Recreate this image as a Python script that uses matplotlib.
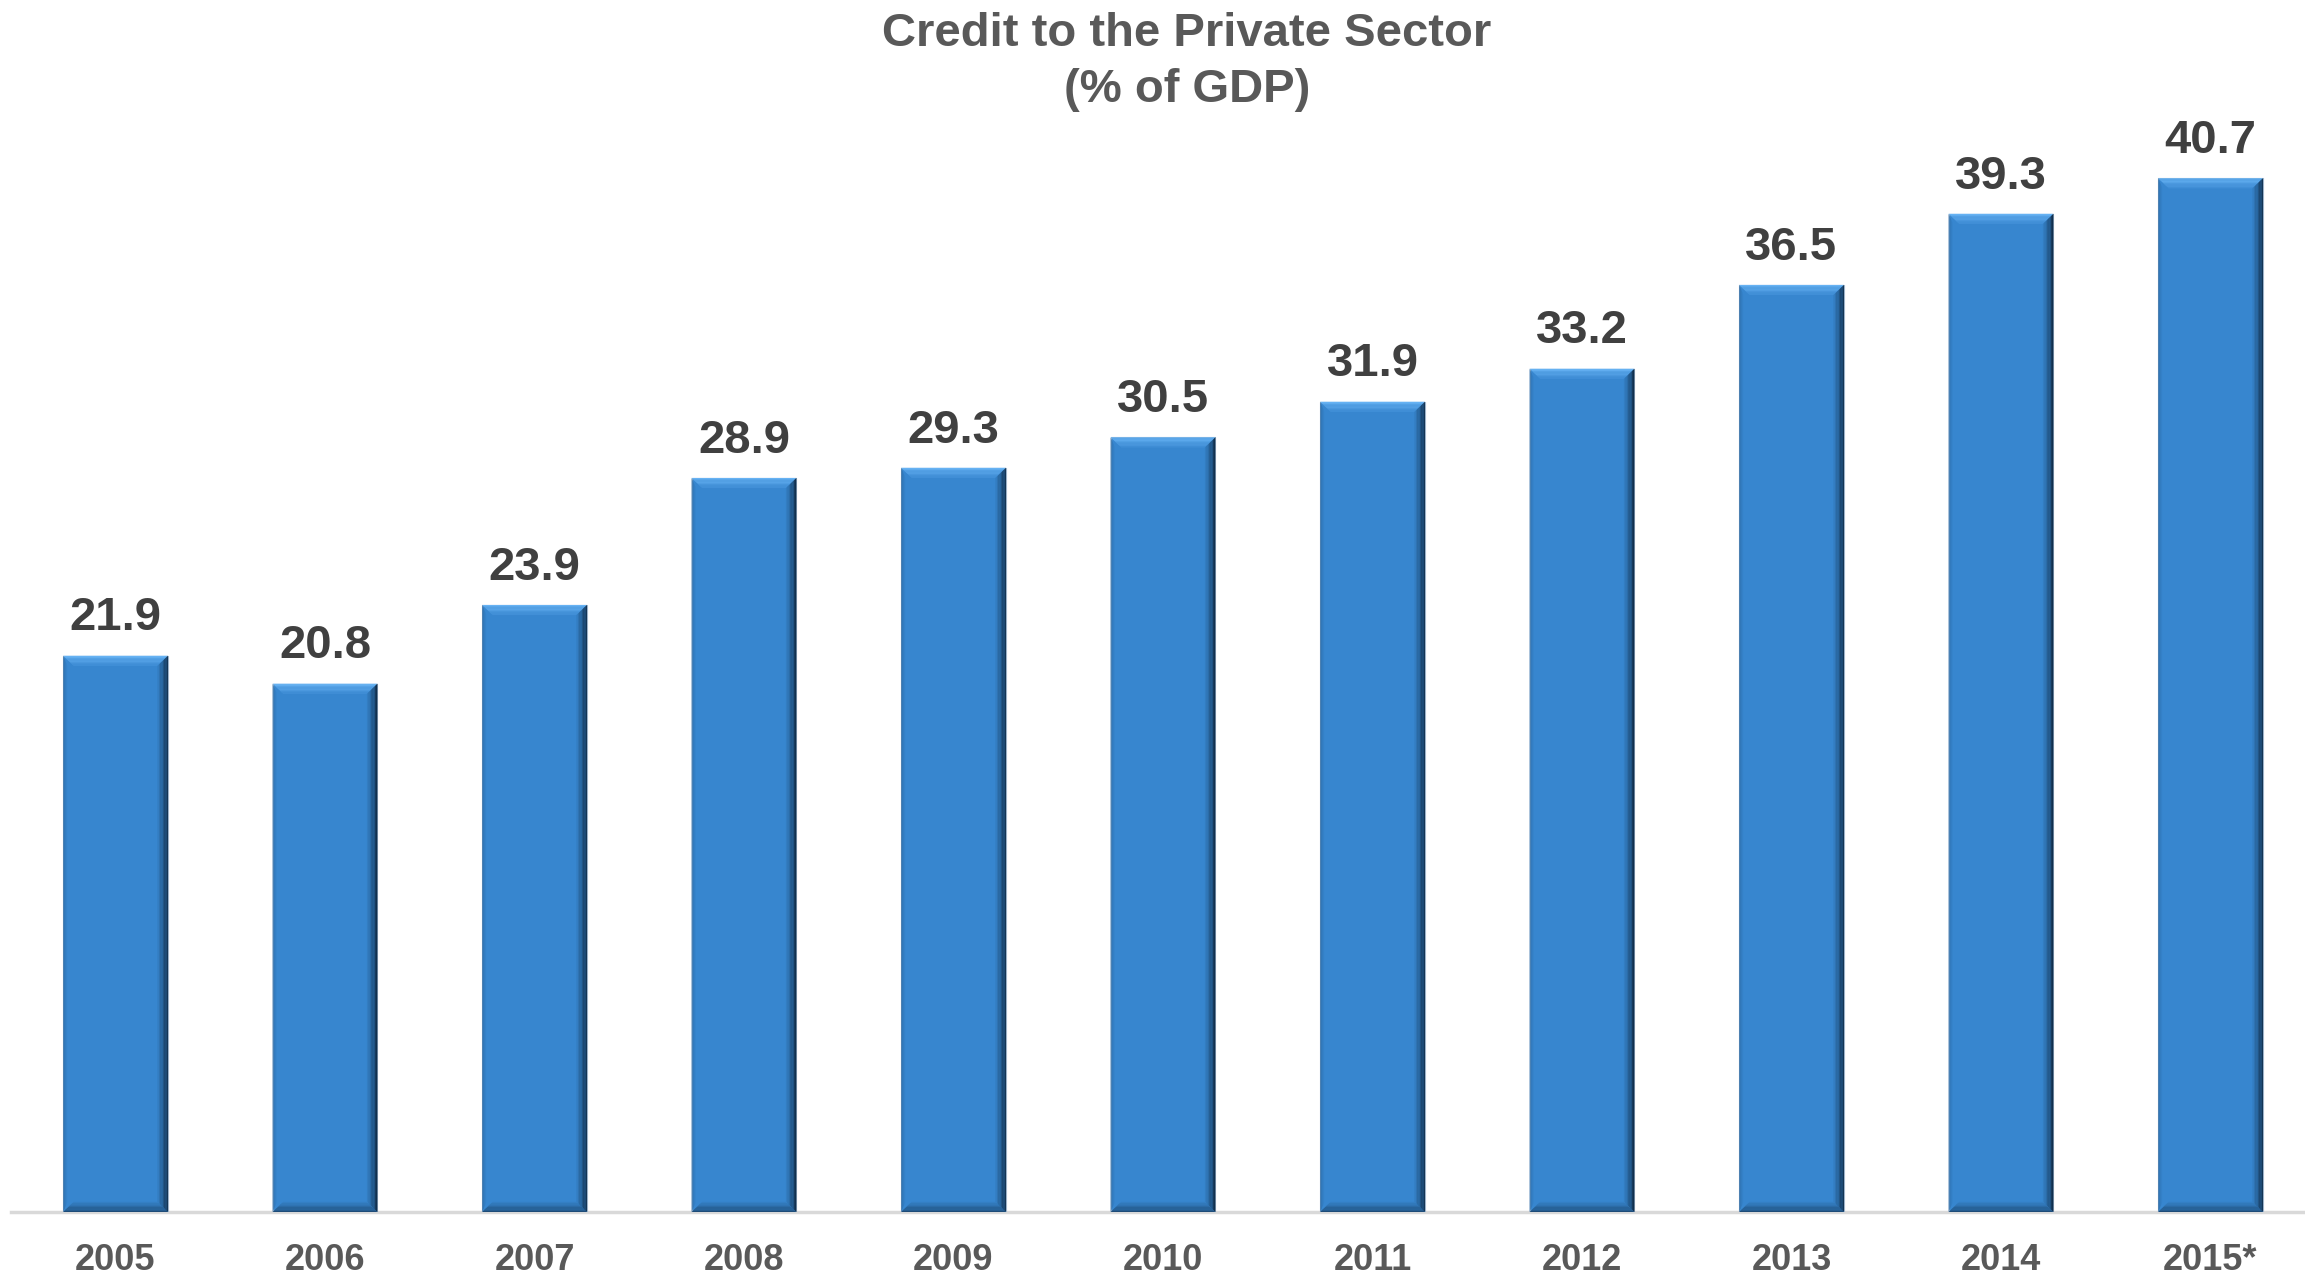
import matplotlib
matplotlib.use("Agg")
import matplotlib.pyplot as plt
from matplotlib.patches import Polygon
from matplotlib.colors import to_rgb
import numpy as np

plt.rcParams['font.family'] = ['Liberation Sans', 'DejaVu Sans']

years = ['2005', '2006', '2007', '2008', '2009', '2010', '2011', '2012', '2013', '2014', '2015*']
credit = [21.9, 20.8, 23.9, 28.9, 29.3, 30.5, 31.9, 33.2, 36.5, 39.3, 40.7]

face = '#3786CF'
light = '#66B2F3'
dark = '#0F2A44'

def mix(c1, c2, t):
    a, b = np.array(to_rgb(c1)), np.array(to_rgb(c2))
    return tuple(a + (b - a) * t)

fig = plt.figure(figsize=(23.05, 12.78), dpi=100)
ax = fig.add_axes([10.75 / 2305, 66 / 1278, 2304.5 / 2305, 1143 / 1278])

x = np.arange(len(years))
width = 0.5
bars = ax.bar(x, credit, width=width, color=face, edgecolor='#9DB3C9', linewidth=0.8, zorder=2)

# bevel: light top, dark right/bottom, stepped to fake a gradient
bx, by = 0.05, 0.4
steps = 8
for b in bars:
    x0, x1 = b.get_x(), b.get_x() + b.get_width()
    h = b.get_height()
    for i in range(steps):
        t0, t1 = i / steps, (i + 1) / steps
        # top strip
        ax.add_patch(Polygon([(x0 + bx * t0, h - by * t0), (x1 - bx * t0, h - by * t0),
                              (x1 - bx * t1, h - by * t1), (x0 + bx * t1, h - by * t1)],
                             closed=True, color=mix(light, face, t0 * 0.9), lw=0, zorder=3))
        # right side
        ax.add_patch(Polygon([(x1 - bx * t0, h - by * t0), (x1 - bx * t1, h - by * t1),
                              (x1 - bx * t1, by * t1), (x1 - bx * t0, by * t0)],
                             closed=True, color=mix(dark, face, t0 ** 0.8), lw=0, zorder=3))
        # bottom strip
        ax.add_patch(Polygon([(x0 + bx * t0, by * t0), (x1 - bx * t0, by * t0),
                              (x1 - bx * t1, by * t1), (x0 + bx * t1, by * t1)],
                             closed=True, color=mix('#1E4C78', face, t0), lw=0, zorder=3))
        # left side, only slightly shaded
        ax.add_patch(Polygon([(x0 + bx * 0.4 * t0, h - by * t0), (x0 + bx * 0.4 * t1, h - by * t1),
                              (x0 + bx * 0.4 * t1, by * t1), (x0 + bx * 0.4 * t0, by * t0)],
                             closed=True, color=mix('#2A6AA6', face, t0), lw=0, zorder=3))

for xi, v in zip(x, credit):
    ax.annotate(f'{v:.1f}', (xi, v), xytext=(0, 11), textcoords='offset points',
                ha='center', va='bottom', fontsize=34, fontweight='bold', color='#404040')

ax.set_xlim(-0.5, len(years) - 0.5)
ax.set_ylim(0, 45)
ax.set_xticks(x)
ax.set_xticklabels(years, fontsize=26, fontweight='bold', color='#595959')
ax.tick_params(axis='x', length=0, pad=22)
ax.set_yticks([])
for s in ['top', 'right', 'left']:
    ax.spines[s].set_visible(False)
ax.spines['bottom'].set_color('#D9D9D9')
ax.spines['bottom'].set_linewidth(2.5)
ax.spines['bottom'].set_zorder(1)

fig.text(0.515, 1 - 34 / 1278, 'Credit to the Private Sector', ha='center', va='center',
         fontsize=34, fontweight='bold', color='#595959')
fig.text(0.515, 1 - 90 / 1278, '(% of GDP)', ha='center', va='center',
         fontsize=34, fontweight='bold', color='#595959')

fig.savefig('out.png', dpi=100)
